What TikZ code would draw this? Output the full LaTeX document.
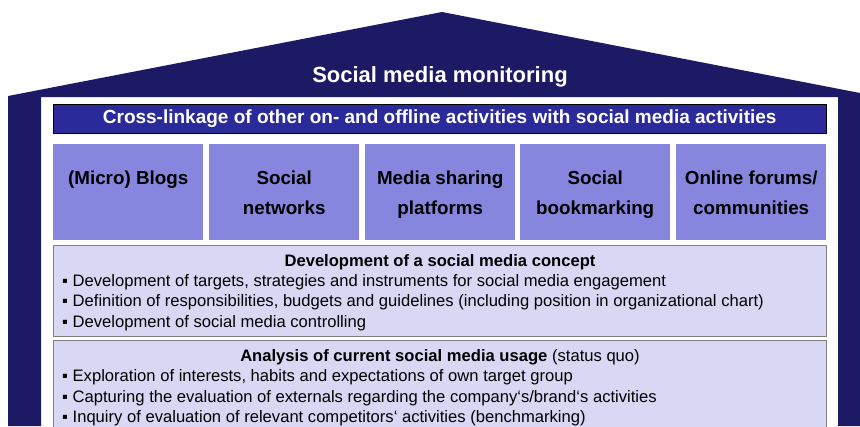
\documentclass[tikz,border=0pt]{standalone}
\usepackage{fontspec}
\setmainfont{Liberation Sans}
\usepackage{tikz}

\definecolor{roofnavy}{RGB}{28,26,100}
\definecolor{barblue}{RGB}{42,42,154}
\definecolor{tileblue}{RGB}{134,134,222}
\definecolor{paleblue}{RGB}{216,216,244}

\begin{document}
\begin{tikzpicture}[x=1pt, y=-1pt, font=\fontsize{16.6}{20.4}\selectfont,
  tile/.style={fill=tileblue, anchor=north west, minimum width=150pt, minimum height=96pt, inner sep=0pt},
  tilelabel/.style={anchor=north, align=center, inner sep=0pt, font=\fontsize{18.8}{29.5}\selectfont\bfseries},
  infobox/.style={fill=paleblue, draw=gray, line width=1.2pt, anchor=north west, minimum width=773pt, inner sep=0pt},
  boxtitle/.style={anchor=base, inner sep=0pt},
  itemlist/.style={anchor=north west, align=left, inner sep=0pt}]
  % pixel grid: x to the right, y downwards, 1px = 1pt
  \useasboundingbox (0,0) rectangle (860,426);
  \fill[roofnavy] (8,96) -- (442,12) -- (860,93) -- (860,426) -- (838,426) -- (838,97)
    -- (41,97) -- (41,426) -- (8,426) -- cycle;
  \node[text=white, font=\fontsize{22}{22}\selectfont\bfseries] (monitor) at (440,77) {Social media monitoring};
  \node[fill=barblue, draw=black, anchor=north west, minimum width=773pt, minimum height=29pt, inner sep=0pt,
    text=white, font=\fontsize{19}{19}\selectfont\bfseries] (crosslink) at (53,104)
    {Cross-linkage of other on- and offline activities with social media activities};
  % the five channels
  \foreach \x/\name/\txt in {53/blogs/{(Micro) Blogs}, 209/networks/{Social\\networks},
      365/sharing/{Media sharing\\platforms}, 520/bookmark/{Social\\bookmarking},
      676/forums/{Online forums/\\communities}} {
    \node[tile] (\name) at (\x,144) {};
    \node[tilelabel] at ([yshift=-27pt]\name.north) {\txt};
  }
  % concept
  \node[infobox, minimum height=91pt] (concept) at (53,245) {};
  \node[boxtitle] (concepttitle) at (440,266) {\textbf{Development of a social media concept}};
  \node[itemlist] (conceptitems) at (62,274)
    {▪ Development of targets, strategies and instruments for social media engagement\\
     ▪ Definition of responsibilities, budgets and guidelines (including position in organizational chart)\\
     ▪ Development of social media controlling};
  % analysis
  \node[infobox, minimum height=100pt] (analysis) at (53,340) {};
  \node[boxtitle] (analysistitle) at (440,361) {\textbf{Analysis of current social media usage} (status quo)};
  \node[itemlist] (analysisitems) at (62,369.5)
    {▪ Exploration of interests, habits and expectations of own target group\\
     ▪ Capturing the evaluation of externals regarding the company‘s/brand‘s activities\\
     ▪ Inquiry of evaluation of relevant competitors‘ activities (benchmarking)};
\end{tikzpicture}
\end{document}
